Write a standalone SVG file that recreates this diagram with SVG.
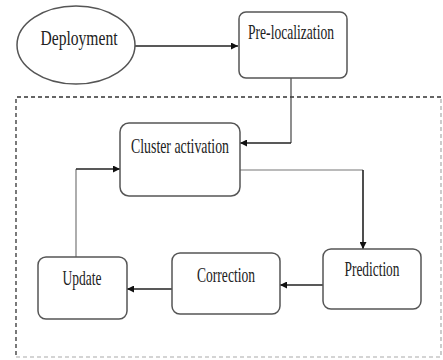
<svg xmlns="http://www.w3.org/2000/svg" width="443" height="360" viewBox="0 0 443 360">
<defs>
<marker id="ah" viewBox="0 0 10 10" refX="10" refY="5" markerWidth="7" markerHeight="7" markerUnits="userSpaceOnUse" orient="auto">
<path d="M0,0 L10,5 L0,10 z" fill="#111"/>
</marker>
</defs>
<style>
.box{fill:#fff;stroke:#555;stroke-width:1.5}
.t{font-family:"Liberation Serif","Times New Roman",serif;font-size:21px;fill:#222;text-anchor:middle}
.c{fill:none;stroke:#222;stroke-width:1.6}
.cl{fill:none;stroke:#777;stroke-width:1.2}
.dash{fill:none;stroke:#333;stroke-width:1.3;stroke-dasharray:4,3}
.dashl{fill:none;stroke:#aaa;stroke-width:1.2;stroke-dasharray:4,3}
</style>
<rect width="443" height="360" fill="#fff"/>
<g id="cluster-region">
<path class="dash" d="M441,97 H16 V357"/>
<path class="dashl" d="M16,357 H441 V97"/>
</g>
<g id="connectors">
<path class="c" d="M135,46 H238" marker-end="url(#ah)"/>
<path class="cl" d="M291,78 V143" style="stroke:#444"/>
<path class="c" d="M291,143 H240" marker-end="url(#ah)"/>
<path class="cl" d="M240,170 H363"/>
<path class="c" d="M363,170 V249" marker-end="url(#ah)"/>
<path class="c" d="M323,285 H280" marker-end="url(#ah)"/>
<path class="c" d="M172,289 H127" marker-end="url(#ah)"/>
<path class="cl" d="M76,257 V169"/>
<path class="c" d="M76,169 H120" marker-end="url(#ah)"/>
</g>
<g id="deployment">
<ellipse class="box" cx="76" cy="45" rx="59" ry="39"/>
<text class="t" x="79" y="45" textLength="77" lengthAdjust="spacingAndGlyphs">Deployment</text>
</g>
<g id="pre-localization">
<rect class="box" x="239" y="12" width="108" height="66" rx="7"/>
<text class="t" x="291" y="39" textLength="86" lengthAdjust="spacingAndGlyphs">Pre-localization</text>
</g>
<g id="cluster-activation">
<rect class="box" x="120" y="123" width="120" height="73" rx="9"/>
<text class="t" x="180" y="153" textLength="98" lengthAdjust="spacingAndGlyphs">Cluster activation</text>
</g>
<g id="prediction">
<rect class="box" x="323" y="249" width="98" height="60" rx="8"/>
<text class="t" x="372" y="276" textLength="55" lengthAdjust="spacingAndGlyphs">Prediction</text>
</g>
<g id="correction">
<rect class="box" x="172" y="253" width="108" height="61" rx="8"/>
<text class="t" x="226" y="282" textLength="58" lengthAdjust="spacingAndGlyphs">Correction</text>
</g>
<g id="update">
<rect class="box" x="38" y="257" width="89" height="62" rx="8"/>
<text class="t" x="82" y="285" textLength="39" lengthAdjust="spacingAndGlyphs">Update</text>
</g>
</svg>
